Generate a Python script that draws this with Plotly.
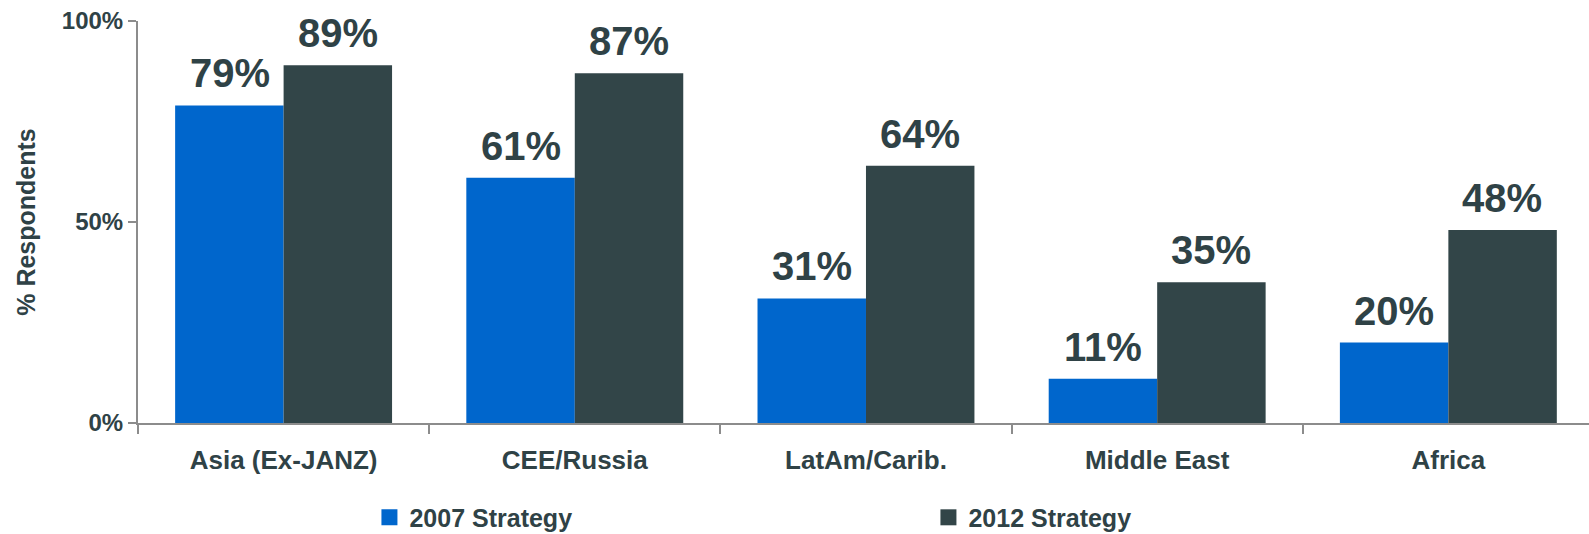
import plotly.graph_objects as go

regions = ["Asia (Ex-JANZ)", "CEE/Russia", "LatAm/Carib.", "Middle East", "Africa"]
strategy_2007 = [79, 61, 31, 11, 20]
strategy_2012 = [89, 87, 64, 35, 48]
series_names = ["2007 Strategy", "2012 Strategy"]
y_ticks = [0, 50, 100]
y_tick_labels = ["0%", "50%", "100%"]

BLUE = "#0066CC"
SLATE = "#324548"
TEXT = "#2F4246"
AXIS = "#8C8C8C"
FONT = "Liberation Sans, Arial, sans-serif"
colors = [BLUE, SLATE]

fig = go.Figure()
for name, values, color in zip(series_names, (strategy_2007, strategy_2012), colors):
    fig.add_trace(go.Bar(name=name, x=regions, y=values, showlegend=False,
                         marker=dict(color=color, line=dict(width=0))))

# legend entries with larger square swatches
for name, color in zip(series_names, colors):
    fig.add_trace(go.Scatter(name=name, x=[None], y=[None], mode="markers",
                             marker=dict(symbol="square", size=16, color=color),
                             hoverinfo="skip"))

# value labels above each bar, shifted onto its half of the group
annotations = []
for series, shift in ((strategy_2007, -54), (strategy_2012, 54)):
    for cat, val in zip(regions, series):
        annotations.append(dict(
            x=cat, y=val, xref="x", yref="y", text=f"<b>{val}%</b>",
            showarrow=False, xshift=shift, yanchor="bottom", yshift=8,
            font=dict(family=FONT, size=40, color=TEXT)))

fig.update_layout(
    width=1589, height=534,
    margin=dict(l=138, r=0, t=21, b=111, autoexpand=False),
    paper_bgcolor="white", plot_bgcolor="white",
    barmode="group", bargap=0.255, bargroupgap=0,
    font=dict(family=FONT, color=TEXT),
    annotations=annotations,
    legend=dict(orientation="h", x=0.1595, xanchor="left", y=-0.178, yanchor="top",
                entrywidth=514, entrywidthmode="pixels", itemsizing="trace",
                font=dict(family=FONT, size=25, color=TEXT, weight="bold"),
                itemclick=False, tracegroupgap=0),
    xaxis=dict(range=[-0.5, 4.483], showline=True, linecolor=AXIS, linewidth=2,
               ticks="outside", ticklen=9, tickwidth=2, tickcolor=AXIS,
               tickson="boundaries", ticklabelstandoff=13,
               tickfont=dict(family=FONT, size=26, color=TEXT, weight="bold"),
               showgrid=False, zeroline=False),
    yaxis=dict(range=[0, 100], tickvals=y_ticks, ticktext=y_tick_labels,
               showline=True, linecolor=AXIS, linewidth=2,
               ticks="outside", ticklen=8, tickwidth=2, tickcolor=AXIS,
               ticklabelstandoff=0,
               tickfont=dict(family=FONT, size=24, color=TEXT, weight="bold"),
               showgrid=False, zeroline=False,
               title=dict(text="% Respondents", standoff=19,
                          font=dict(family=FONT, size=25, color=TEXT, weight="bold"))),
)

fig.write_html("out.html")
